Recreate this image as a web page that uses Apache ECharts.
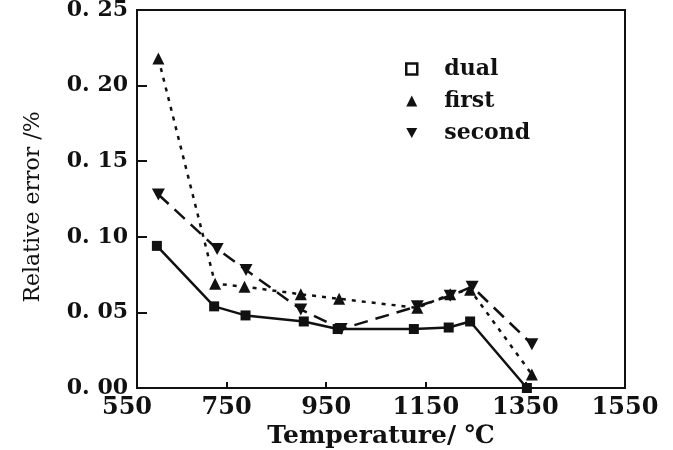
<!DOCTYPE html>
<html>
<head>
<meta charset="utf-8">
<script src="https://cdn.jsdelivr.net/npm/echarts@6/dist/echarts.min.js"></script>
<style>html,body{margin:0;padding:0;background:#fff;}#c{width:673px;height:450px;}</style>
</head>
<body>
<div id="c"></div>
<script>
// Data
const dualX   = [610, 725, 788, 905, 973, 1126, 1196, 1239, 1353];
const dualY   = [0.094, 0.054, 0.048, 0.044, 0.039, 0.039, 0.040, 0.044, 0.000];
const firstX  = [613, 727, 786, 899, 976, 1133, 1199, 1239, 1363];
const firstY  = [0.218, 0.069, 0.067, 0.062, 0.059, 0.053, 0.062, 0.065, 0.009];
const secondX = [613, 731, 789, 899, 980, 1133, 1199, 1243, 1363];
const secondY = [0.128, 0.092, 0.078, 0.052, 0.039, 0.054, 0.061, 0.067, 0.029];
const xTickLabels = ['550', '750', '950', '1150', '1350', '1550'];
const yTickLabels = ['0. 00', '0. 05', '0. 10', '0. 15', '0. 20', '0. 25'];
const seriesNames = ['dual', 'first', 'second'];

const FONT = 'DejaVu Serif';
const downTri = 'path://M0,0L10,0L5,9Z';
const pairs = (xs, ys) => xs.map((x, i) => [x, ys[i]]);

const chart = echarts.init(document.getElementById('c'), null, {renderer: 'canvas'});
chart.setOption({
  backgroundColor: '#fff',
  animation: false,
  grid: [
    {left: 127, right: 48, top: 10, bottom: 62, show: false, containLabel: false, outerBoundsMode: 'none'},
    {left: 137, right: 48, top: 10, bottom: 62, show: true, borderColor: '#111', borderWidth: 2, backgroundColor: 'transparent', containLabel: false, outerBoundsMode: 'none'}
  ],
  xAxis: [
    {
      gridIndex: 0, type: 'value', min: 550, max: 1550, interval: 200,
      axisLine: {show: false},
      axisTick: {show: true, inside: true, length: 6, lineStyle: {color: '#111', width: 2}, customValues: [750, 950, 1150, 1350]},
      splitLine: {show: false},
      axisLabel: {
        margin: 8, color: '#111', fontFamily: FONT, fontWeight: 'bold', fontSize: 24,
        formatter: v => xTickLabels[Math.round((v - 550) / 200)]
      }
    },
    {
      gridIndex: 1, type: 'value', min: 570, max: 1550,
      axisLine: {show: false}, axisTick: {show: false}, axisLabel: {show: false}, splitLine: {show: false},
      name: 'Temperature/ ℃', nameLocation: 'middle', nameGap: 36,
      nameTextStyle: {color: '#111', fontFamily: FONT, fontWeight: 'bold', fontSize: 25}
    }
  ],
  yAxis: [
    {gridIndex: 0, type: 'value', min: 0, max: 0.25, show: false},
    {
      gridIndex: 1, type: 'value', min: 0, max: 0.25, interval: 0.05,
      axisLine: {show: false},
      axisTick: {show: true, inside: true, length: 10, lineStyle: {color: '#111', width: 2}},
      splitLine: {show: false},
      axisLabel: {
        margin: 9, color: '#111', fontFamily: FONT, fontWeight: 'bold', fontSize: 22,
        padding: [5, 0, 0, 0],
        formatter: v => yTickLabels[Math.round(v / 0.05)]
      },
      name: 'Relative error /%', nameLocation: 'middle', nameGap: 93, nameRotate: 90,
      nameTextStyle: {color: '#111', fontFamily: FONT, fontSize: 22, padding: [0, 16, 0, 0]}
    }
  ],
  legend: {
    orient: 'vertical', left: 400, top: 53, itemGap: 10, itemWidth: 11, itemHeight: 11,
    textStyle: {color: '#111', fontFamily: FONT, fontWeight: 'bold', fontSize: 22, lineHeight: 22, padding: [0, 0, 0, 22]},
    data: [
      {name: seriesNames[0], icon: 'rect', itemStyle: {color: '#fff', borderColor: '#111', borderWidth: 2.5}},
      {name: seriesNames[1], icon: 'triangle'},
      {name: seriesNames[2], icon: downTri}
    ]
  },
  series: [
    {
      name: seriesNames[0], type: 'line', xAxisIndex: 0, yAxisIndex: 0,
      data: pairs(dualX, dualY), symbol: 'rect', symbolSize: 10,
      itemStyle: {color: '#111'}, lineStyle: {color: '#111', width: 2.5, type: 'solid'}
    },
    {
      name: seriesNames[1], type: 'line', xAxisIndex: 0, yAxisIndex: 0,
      data: pairs(firstX, firstY), symbol: 'triangle', symbolSize: 12,
      itemStyle: {color: '#111'}, lineStyle: {color: '#111', width: 2.5, type: [4, 6]}
    },
    {
      name: seriesNames[2], type: 'line', xAxisIndex: 0, yAxisIndex: 0,
      data: pairs(secondX, secondY), symbol: downTri, symbolSize: [13, 12],
      itemStyle: {color: '#111'}, lineStyle: {color: '#111', width: 2.5, type: [14, 8]}
    }
  ]
});
</script>
</body>
</html>
